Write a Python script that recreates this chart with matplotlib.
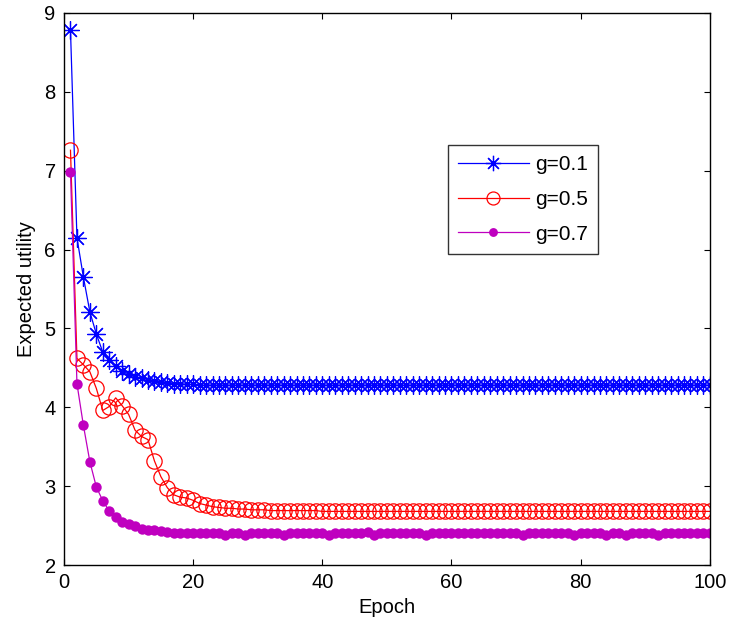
import numpy as np
import matplotlib
matplotlib.use("Agg")
import matplotlib.pyplot as plt

plt.rcParams['font.family'] = ['Liberation Sans', 'DejaVu Sans']

epochs = np.arange(1, 101)

# g = 0.1
util_g01 = [8.78, 6.15, 5.65, 5.21, 4.93, 4.70, 4.60, 4.52, 4.46, 4.42,
            4.39, 4.37, 4.35, 4.33, 4.32, 4.31, 4.30, 4.30, 4.29, 4.29] + [4.28] * 80

# g = 0.5
util_g05 = [7.26, 4.62, 4.54, 4.45, 4.24, 3.96, 4.01, 4.12, 4.02, 3.91,
            3.71, 3.63, 3.59, 3.32, 3.12, 2.98, 2.89, 2.86, 2.85, 2.82,
            2.78, 2.76, 2.74, 2.73, 2.72, 2.72, 2.71, 2.71, 2.70, 2.70,
            2.70, 2.69, 2.69, 2.69, 2.69, 2.69, 2.69, 2.69, 2.69, 2.68] + [2.68] * 60

# g = 0.7
util_g07 = [6.98, 4.30, 3.77, 3.31, 2.99, 2.815, 2.685, 2.61, 2.54, 2.52,
            2.49, 2.46, 2.45, 2.44, 2.43, 2.42, 2.41, 2.41, 2.41, 2.41,
            2.41, 2.41, 2.41, 2.41, 2.38, 2.41, 2.41, 2.38, 2.41, 2.41,
            2.41, 2.41, 2.41, 2.38, 2.41, 2.41, 2.41, 2.41, 2.41, 2.41,
            2.38, 2.41, 2.41, 2.41, 2.41, 2.41, 2.42, 2.38, 2.41, 2.41,
            2.41, 2.41, 2.41, 2.41, 2.41, 2.38, 2.41, 2.41, 2.41, 2.41,
            2.41, 2.41, 2.41, 2.41, 2.41, 2.41, 2.41, 2.41, 2.41, 2.41,
            2.38, 2.41, 2.41, 2.41, 2.41, 2.41, 2.41, 2.41, 2.38, 2.41,
            2.41, 2.41, 2.41, 2.38, 2.41, 2.41, 2.38, 2.41, 2.41, 2.41,
            2.41, 2.38, 2.41, 2.41, 2.41, 2.41, 2.41, 2.41, 2.41, 2.41]

labels = ['g=0.1', 'g=0.5', 'g=0.7']
x_ticks = [0, 20, 40, 60, 80, 100]
y_ticks = [2, 3, 4, 5, 6, 7, 8, 9]

fig = plt.figure(figsize=(7.31, 6.34), dpi=100)
ax = fig.add_axes([0.0876, 0.1088, 0.971 - 0.0876, 0.9795 - 0.1088])

ax.plot(epochs, util_g01, color='#0000ff', lw=0.9, marker=(8, 2, 0),
        markersize=13, markeredgewidth=0.9, label=labels[0])
ax.plot(epochs, util_g05, color='#ff0000', lw=0.9, marker='o',
        markersize=11, markerfacecolor='none', markeredgewidth=0.9,
        label=labels[1])
ax.plot(epochs, util_g07, color='#bf00bf', lw=0.9, marker='o',
        markersize=7.5, markeredgewidth=0, label=labels[2])

ax.set_xlim(0, 100)
ax.set_ylim(2, 9)
ax.set_xticks(x_ticks)
ax.set_yticks(y_ticks)
ax.tick_params(direction='in', top=True, right=True, length=4, width=0.8,
               labelsize=14.5, pad=6)
for s in ax.spines.values():
    s.set_linewidth(1.0)

ax.set_xlabel('Epoch', fontsize=14.5, labelpad=4)
ax.set_ylabel('Expected utility', fontsize=14.5, labelpad=6)

leg = ax.legend(loc='upper left', bbox_to_anchor=(0.594, 0.761),
                fontsize=15, frameon=True, fancybox=False, edgecolor='black',
                handlelength=3.4, handletextpad=0.3, labelspacing=0.75,
                borderpad=0.5, borderaxespad=0, markerscale=0.85)
leg.get_frame().set_linewidth(1.0)

fig.savefig('out.png', dpi=100)
